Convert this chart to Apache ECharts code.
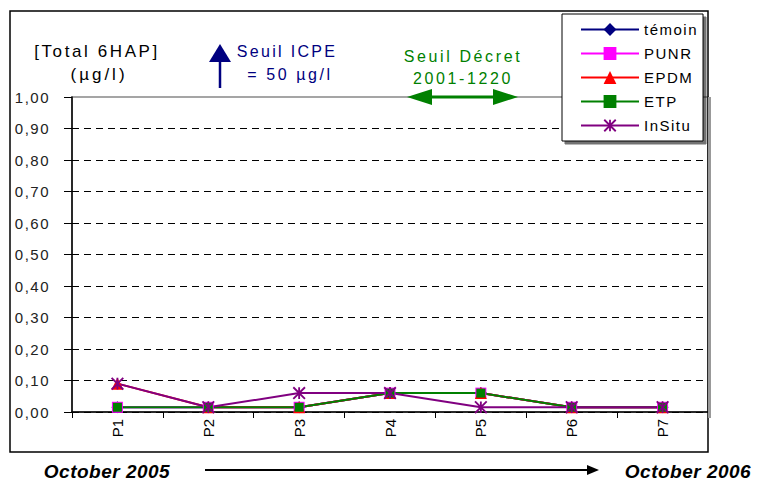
<!DOCTYPE html>
<html>
<head>
<meta charset="utf-8">
<script src="https://cdn.jsdelivr.net/npm/echarts@6/dist/echarts.min.js"></script>
<style>
html,body{margin:0;padding:0;background:#fff;}
#chart{width:757px;height:482px;}
</style>
</head>
<body>
<div id="chart"></div>
<script>
// ---- data ----
var categories = ['P1','P2','P3','P4','P5','P6','P7'];
var temoin = [0.015,0.015,0.015,0.06,0.06,0.015,0.015];
var punr   = [0.015,0.015,0.015,0.06,0.06,0.015,0.015];
var epdm   = [0.09,0.015,0.015,0.06,0.06,0.015,0.015];
var etp    = [0.015,0.015,0.015,0.06,0.06,0.015,0.015];
var insitu = [0.09,0.015,0.06,0.06,0.015,0.015,0.015];
var yTicks = { min: 0, max: 1, interval: 0.1 };

var FONT = "'Liberation Sans', Arial, sans-serif";
var asterisk = 'path://M4.2,0L5.8,0L5.8,10L4.2,10Z' +
  'M0.57,-0.57L10.57,9.43L9.43,10.57L-0.57,0.57Z' +
  'M10.57,0.57L0.57,10.57L-0.57,9.43L9.43,-0.57Z';

function mk(name, data, color, symbol, size) {
  return {
    name: name, type: 'line', data: data,
    symbol: symbol, symbolSize: size,
    lineStyle: { color: color, width: 2 },
    itemStyle: { color: color },
    z: 3
  };
}

var splitColors = [];
for (var i = 0; i < 10; i++) splitColors.push('#000');
splitColors.push('rgba(0,0,0,0)');

var chart = echarts.init(document.getElementById('chart'), null, { renderer: 'svg' });
chart.setOption({
  animation: false,
  backgroundColor: '#fff',
  textStyle: { fontFamily: FONT },
  grid: { left: 72, right: 49, top: 97, bottom: 70, show: true, borderColor: '#888', borderWidth: 1.5, backgroundColor: 'rgba(0,0,0,0)' },
  legend: {
    orient: 'vertical', left: 562, top: 14,
    padding: [8, 14, 8, 18], itemGap: 9, itemWidth: 58, itemHeight: 16,
    backgroundColor: '#fff', borderColor: '#000', borderWidth: 1,
    shadowColor: 'rgba(0,0,0,0.55)', shadowOffsetX: 3, shadowOffsetY: 3, shadowBlur: 0,
    textStyle: { fontFamily: FONT, fontSize: 15, color: '#000' },
    z: 20,
    data: ['témoin','PUNR','EPDM','ETP','InSitu']
  },
  xAxis: {
    type: 'category', data: categories,
    axisLine: { lineStyle: { color: '#000', width: 1.5 } },
    axisTick: { show: true, length: 6, interval: 0, lineStyle: { color: '#000' } },
    axisLabel: { rotate: 90, fontSize: 15, color: '#000', margin: 7, fontFamily: FONT }
  },
  yAxis: {
    type: 'value', min: yTicks.min, max: yTicks.max, interval: yTicks.interval,
    axisLine: { show: true, lineStyle: { color: '#000', width: 1.5 } },
    axisTick: { show: true, length: 8, lineStyle: { color: '#000' } },
    axisLabel: { fontSize: 15, color: '#222', margin: 22, fontFamily: FONT,
      formatter: function (v) { return v.toFixed(2).replace('.', ','); } },
    splitLine: { show: true, lineStyle: { color: splitColors, type: [7, 5], width: 1 } }
  },
  series: [
    mk('témoin', temoin, '#000080', 'diamond', 12),
    mk('PUNR', punr, '#ff00ff', 'rect', 11),
    mk('EPDM', epdm, '#ff0000', 'triangle', 12),
    mk('ETP', etp, '#008000', 'rect', 9),
    mk('InSitu', insitu, '#800080', asterisk, 13)
  ],
  graphic: [
    { type: 'rect', z: 0, silent: true, shape: { x: 10, y: 11, width: 698, height: 441 },
      style: { fill: 'none', stroke: '#000', lineWidth: 1.5 } },
    { type: 'line', z: 1, silent: true, shape: { x1: 709.5, y1: 97, x2: 709.5, y2: 418 },
      style: { stroke: '#999', lineWidth: 3 } },
    { type: 'text', z: 5, x: 97, y: 51, style: { text: '[Total 6HAP]', font: '17px ' + FONT, fill: '#000', textAlign: 'center', textVerticalAlign: 'middle' } },
    { type: 'text', z: 5, x: 99, y: 74, style: { text: '(µg/l)', font: '17px ' + FONT, fill: '#000', textAlign: 'center', textVerticalAlign: 'middle' } },
    { type: 'text', z: 5, x: 287, y: 51, style: { text: 'Seuil ICPE', font: '16px ' + FONT, fill: '#000080', textAlign: 'center', textVerticalAlign: 'middle' } },
    { type: 'text', z: 5, x: 290, y: 74, style: { text: '= 50 µg/l', font: '16px ' + FONT, fill: '#000080', textAlign: 'center', textVerticalAlign: 'middle' } },
    { type: 'line', z: 5, shape: { x1: 220, y1: 88, x2: 220, y2: 60 }, style: { stroke: '#000080', lineWidth: 2.5 } },
    { type: 'polygon', z: 5, shape: { points: [[209, 62], [231, 62], [220, 44]] }, style: { fill: '#000080' } },
    { type: 'text', z: 5, x: 463, y: 56, style: { text: 'Seuil Décret', font: '16px ' + FONT, fill: '#008000', textAlign: 'center', textVerticalAlign: 'middle' } },
    { type: 'text', z: 5, x: 463, y: 78, style: { text: '2001-1220', font: '16px ' + FONT, fill: '#008000', textAlign: 'center', textVerticalAlign: 'middle' } },
    { type: 'line', z: 6, shape: { x1: 428, y1: 97, x2: 497, y2: 97 }, style: { stroke: '#008000', lineWidth: 3 } },
    { type: 'polygon', z: 6, shape: { points: [[407, 97], [432, 89], [432, 105]] }, style: { fill: '#008000' } },
    { type: 'polygon', z: 6, shape: { points: [[518, 97], [493, 89], [493, 105]] }, style: { fill: '#008000' } },
    { type: 'text', z: 5, x: 107, y: 471, style: { text: 'October 2005', font: 'italic bold 19px ' + FONT, fill: '#000', textAlign: 'center', textVerticalAlign: 'middle' } },
    { type: 'text', z: 5, x: 688, y: 471, style: { text: 'October 2006', font: 'italic bold 19px ' + FONT, fill: '#000', textAlign: 'center', textVerticalAlign: 'middle' } },
    { type: 'line', z: 5, shape: { x1: 205, y1: 470, x2: 590, y2: 470 }, style: { stroke: '#000', lineWidth: 2 } },
    { type: 'polygon', z: 5, shape: { points: [[599, 470], [587, 465], [587, 475]] }, style: { fill: '#000' } }
  ]
});

var spacing = {
  '[Total 6HAP]': 2.6, '(µg/l)': 3, 'Seuil ICPE': 2.3, '= 50 µg/l': 2.6,
  'Seuil Décret': 2.6, '2001-1220': 2.6,
  'témoin': 1.5, 'PUNR': 1.5, 'EPDM': 1.5, 'ETP': 1.5, 'InSitu': 1.5,
  'October 2005': 0.5, 'October 2006': 0.5
};
function applySpacing() {
  var texts = document.querySelectorAll('#chart svg text, #chart svg tspan');
  for (var i = 0; i < texts.length; i++) {
    var t = (texts[i].textContent || '').trim();
    var s = spacing[t];
    if (s === undefined && /^\d,\d\d$/.test(t)) s = 1.5;
    if (s !== undefined) {
      texts[i].style.letterSpacing = s + 'px';
      texts[i].setAttribute('letter-spacing', s + 'px');
    }
  }
}
applySpacing();
chart.on('rendered', applySpacing);
chart.on('finished', applySpacing);
setTimeout(applySpacing, 30);
setTimeout(applySpacing, 200);
</script>
</body>
</html>
